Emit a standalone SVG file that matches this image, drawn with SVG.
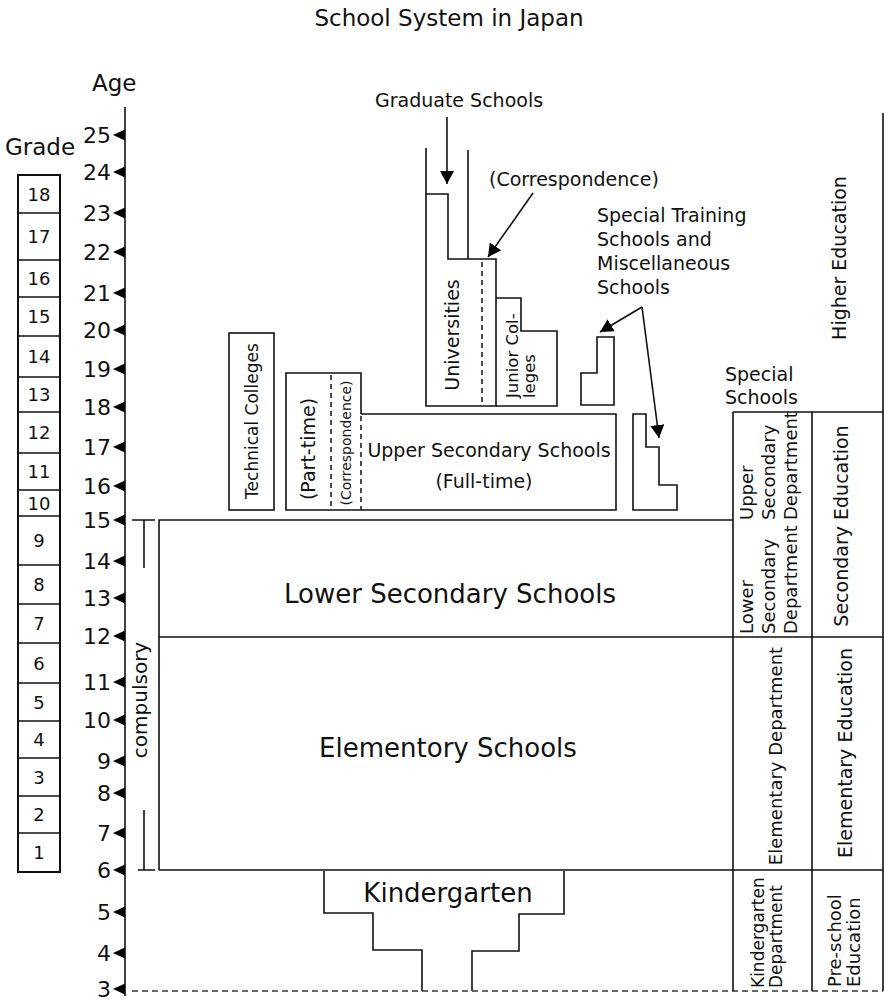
<svg xmlns="http://www.w3.org/2000/svg" xmlns:xlink="http://www.w3.org/1999/xlink" width="884" height="1001" viewBox="0 0 884 1001">
<defs>
<marker id="ah" markerWidth="14" markerHeight="14" refX="13" refY="7" orient="auto" markerUnits="userSpaceOnUse">
<path d="M0,0 L13,7 L0,14 z" fill="#000"/>
</marker>
<path id="tri" d="M-12,0 L0,-5.5 L0,5.5 z" fill="#000"/>
</defs>
<style>
text{font-family:"DejaVu Sans","Liberation Sans",sans-serif;fill:#111}
.ln{fill:none;stroke:#111;stroke-width:1.6}
.dash{fill:none;stroke:#111;stroke-width:1.5;stroke-dasharray:5 4}
.gb{fill:#fff;stroke:#111;stroke-width:2}
.age{font-size:22px;text-anchor:end}
.gn{font-size:18px;text-anchor:middle}
.l19{font-size:19px}
.big{font-size:26px;text-anchor:middle}
.mid{text-anchor:middle}
.cn{fill:none;stroke:#111;stroke-width:1.6}
</style>
<rect width="884" height="1001" fill="#fff"/>

<text id="title" x="449" y="26" font-size="23" text-anchor="middle">School System in Japan</text>

<g id="grade">
<text x="5" y="155" font-size="23">Grade</text>
<rect class="gb" x="18" y="175" width="42" height="697"/>
<path class="ln" stroke-width="2" d="M18,213H60M18,260H60M18,297H60M18,336H60M18,377H60M18,412H60M18,453H60M18,490H60M18,516H60M18,565H60M18,604H60M18,643H60M18,683H60M18,721H60M18,758H60M18,796H60M18,833H60"/>
<text class="gn" x="39" y="201">18</text>
<text class="gn" x="39" y="243">17</text>
<text class="gn" x="39" y="285">16</text>
<text class="gn" x="39" y="323">15</text>
<text class="gn" x="39" y="363">14</text>
<text class="gn" x="39" y="401">13</text>
<text class="gn" x="39" y="439">12</text>
<text class="gn" x="39" y="478">11</text>
<text class="gn" x="39" y="510">10</text>
<text class="gn" x="39" y="547">9</text>
<text class="gn" x="39" y="591">8</text>
<text class="gn" x="39" y="630">7</text>
<text class="gn" x="39" y="670">6</text>
<text class="gn" x="39" y="709">5</text>
<text class="gn" x="39" y="746">4</text>
<text class="gn" x="39" y="784">3</text>
<text class="gn" x="39" y="821">2</text>
<text class="gn" x="39" y="859">1</text>
</g>

<g id="age-axis">
<text x="92" y="91" font-size="23">Age</text>
<line class="ln" x1="125" y1="107" x2="125" y2="996"/>
<use xlink:href="#tri" x="125" y="135"/><text class="age" x="111" y="143">25</text>
<use xlink:href="#tri" x="125" y="172"/><text class="age" x="111" y="180">24</text>
<use xlink:href="#tri" x="125" y="213"/><text class="age" x="111" y="221">23</text>
<use xlink:href="#tri" x="125" y="252"/><text class="age" x="111" y="260">22</text>
<use xlink:href="#tri" x="125" y="293"/><text class="age" x="111" y="301">21</text>
<use xlink:href="#tri" x="125" y="330"/><text class="age" x="111" y="338">20</text>
<use xlink:href="#tri" x="125" y="369"/><text class="age" x="111" y="377">19</text>
<use xlink:href="#tri" x="125" y="407"/><text class="age" x="111" y="415">18</text>
<use xlink:href="#tri" x="125" y="447"/><text class="age" x="111" y="455">17</text>
<use xlink:href="#tri" x="125" y="486"/><text class="age" x="111" y="494">16</text>
<use xlink:href="#tri" x="125" y="520"/><text class="age" x="111" y="528">15</text>
<use xlink:href="#tri" x="125" y="561"/><text class="age" x="111" y="569">14</text>
<use xlink:href="#tri" x="125" y="598"/><text class="age" x="111" y="606">13</text>
<use xlink:href="#tri" x="125" y="636"/><text class="age" x="111" y="644">12</text>
<use xlink:href="#tri" x="125" y="682"/><text class="age" x="111" y="690">11</text>
<use xlink:href="#tri" x="125" y="720"/><text class="age" x="111" y="728">10</text>
<use xlink:href="#tri" x="125" y="761"/><text class="age" x="111" y="769">9</text>
<use xlink:href="#tri" x="125" y="793"/><text class="age" x="111" y="801">8</text>
<use xlink:href="#tri" x="125" y="833"/><text class="age" x="111" y="841">7</text>
<use xlink:href="#tri" x="125" y="870"/><text class="age" x="111" y="878">6</text>
<use xlink:href="#tri" x="125" y="912"/><text class="age" x="111" y="920">5</text>
<use xlink:href="#tri" x="125" y="953"/><text class="age" x="111" y="961">4</text>
<use xlink:href="#tri" x="125" y="989"/><text class="age" x="111" y="997">3</text>
</g>

<g id="compulsory">
<path class="ln" d="M132,520H155M144,520V568M144,810V870M138,870H155"/>
<text transform="translate(147,700) rotate(-90)" font-size="20" text-anchor="middle">compulsory</text>
</g>

<g id="lower-secondary">
<path class="ln" d="M159,870V520H733M159,637H883"/>
<text class="big" x="450" y="603">Lower Secondary Schools</text>
</g>

<g id="elementary">
<path class="ln" d="M159,870H883"/>
<text class="big" x="448" y="757">Elementory Schools</text>
</g>

<g id="kindergarten">
<path class="ln" d="M324,871V913H373V950H422V991M564,871V914H519V951H472V991"/>
<text class="big" x="448" y="902">Kindergarten</text>
</g>

<g id="baseline-3">
<line x1="132" y1="991" x2="883" y2="991" stroke="#333" stroke-width="1.5" stroke-dasharray="6 4"/>
</g>

<g id="technical-colleges">
<rect class="ln" x="229" y="333" width="45" height="177"/>
<text transform="translate(258,421) rotate(-90)" font-size="17" text-anchor="middle">Technical Colleges</text>
</g>

<g id="upper-secondary">
<path class="ln" d="M361,414V373H286V510H616V414H361"/>
<path class="dash" d="M331,375V510M361,416V510"/>
<text transform="translate(315,449) rotate(-90)" font-size="19" text-anchor="middle">(Part-time)</text>
<text transform="translate(351,443) rotate(-90)" font-size="14" text-anchor="middle">(Correspondence)</text>
<text class="l19 mid" x="489" y="457">Upper Secondary Schools</text>
<text class="l19 mid" x="484" y="488">(Full-time)</text>
</g>

<g id="universities">
<path class="ln" d="M426,148V406H496V259H448V194H426M468,150V259"/>
<path class="dash" d="M482,262V406"/>
<text transform="translate(459,335) rotate(-90)" font-size="19" text-anchor="middle">Universities</text>
</g>

<g id="junior-colleges">
<path class="ln" d="M496,298H521V331H557V406H496"/>
<text transform="rotate(-90)" font-size="16.5"><tspan x="-398" y="518">Junior Col-</tspan><tspan x="-398" y="535">leges</tspan></text>
</g>

<g id="graduate-label">
<text class="l19" x="375" y="107">Graduate Schools</text>
</g>
<g id="correspondence-label">
<text class="l19" x="489" y="186">(Correspondence)</text>
</g>

<g id="special-training">
<path class="ln" d="M597,337H614V405H581V373H597Z"/>
<path class="ln" d="M633,414H646V447H659V485H677V510H633Z"/>
<text class="l19"><tspan x="597" y="222">Special Training</tspan><tspan x="597" y="246">Schools and</tspan><tspan x="597" y="270">Miscellaneous</tspan><tspan x="597" y="294">Schools</tspan></text>
</g>

<g id="special-schools">
<path class="ln" d="M733,412V991M812,412V991M883,113V991M733,412H883"/>
<text class="l19"><tspan x="725" y="381">Special</tspan><tspan x="725" y="404">Schools</tspan></text>
<text transform="rotate(-90)" font-size="18"><tspan x="-520" y="753">Upper</tspan><tspan x="-520" y="775">Secondary</tspan><tspan x="-520" y="797">Department</tspan></text>
<text transform="rotate(-90)" font-size="18"><tspan x="-634" y="753">Lower</tspan><tspan x="-634" y="775">Secondary</tspan><tspan x="-634" y="797">Department</tspan></text>
<text transform="translate(782,756) rotate(-90)" font-size="18" text-anchor="middle">Elementary Department</text>
<text transform="rotate(-90)" font-size="17"><tspan x="-988" y="764">Kindergarten</tspan><tspan x="-988" y="782">Department</tspan></text>
</g>

<g id="education-levels">
<text transform="translate(846,258) rotate(-90)" font-size="19" text-anchor="middle">Higher Education</text>
<text transform="translate(848,526) rotate(-90)" font-size="19" text-anchor="middle">Secondary Education</text>
<text transform="translate(852,753) rotate(-90)" font-size="19" text-anchor="middle">Elementary Education</text>
<text transform="rotate(-90)" font-size="18"><tspan x="-987" y="841">Pre-school</tspan><tspan x="-987" y="860">Education</tspan></text>
</g>

<g id="connectors">
<line class="cn" x1="447" y1="117" x2="447" y2="184" marker-end="url(#ah)"/>
<line class="cn" x1="533" y1="193" x2="488" y2="257" marker-end="url(#ah)"/>
<line class="cn" x1="642" y1="307" x2="600" y2="332" marker-end="url(#ah)"/>
<line class="cn" x1="642" y1="307" x2="659" y2="438" marker-end="url(#ah)"/>
</g>
</svg>
